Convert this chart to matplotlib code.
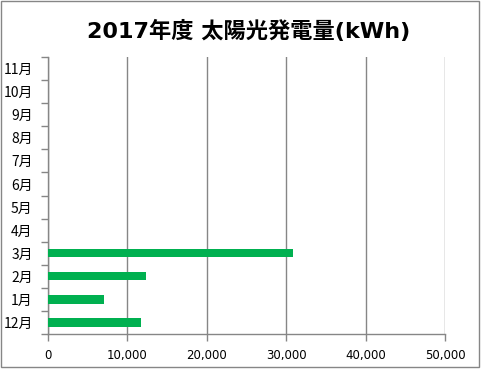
import matplotlib
matplotlib.use('Agg')
import matplotlib.pyplot as plt
from matplotlib.patches import Rectangle
from matplotlib.ticker import FuncFormatter, FixedLocator
import numpy as np

plt.rcParams['font.family'] = ['Noto Sans CJK JP', 'DejaVu Sans']

# DATA
months = ['12月', '1月', '2月', '3月', '4月', '5月', '6月', '7月', '8月', '9月', '10月', '11月']
values = [11700, 7070, 12350, 30800, 0, 0, 0, 0, 0, 0, 0, 0]
title = '2017年度 太陽光発電量(kWh)'
x_ticks = [0, 10000, 20000, 30000, 40000, 50000]

GRAY = '#868686'
GREEN = '#00B050'

fig = plt.figure(figsize=(4.91, 3.79), dpi=100)
ax = fig.add_axes([48 / 491, 1 - 334 / 379, 397 / 491, 277 / 379])

y = np.arange(len(months))
ax.barh(y, values, height=0.36, color=GREEN, zorder=3)

ax.set_xlim(0, 50000)
ax.set_ylim(-0.5, len(months) - 0.5)

ax.set_xticks(x_ticks)
ax.xaxis.set_major_formatter(FuncFormatter(lambda v, p: f'{int(v):,}'))
ax.set_yticks(y)
ax.set_yticklabels(months)
ax.yaxis.set_minor_locator(FixedLocator(np.arange(-0.5, len(months), 1)))

ax.grid(axis='x', color=GRAY, linewidth=1, zorder=0)
for side in ['top', 'right']:
    ax.spines[side].set_visible(False)
for side in ['left', 'bottom']:
    ax.spines[side].set_color(GRAY)
    ax.spines[side].set_linewidth(1)

ax.tick_params(axis='x', colors=GRAY, length=5, width=1, labelcolor='black',
               labelsize=8.5, pad=6)
ax.tick_params(axis='y', which='major', length=0, labelsize=10, pad=11)
ax.tick_params(axis='y', which='minor', colors=GRAY, length=5, width=1)
for lbl in ax.get_xticklabels():
    lbl.set_family('DejaVu Sans')

fig.text(249 / 491, 1 - 31 / 379, title, ha='center', va='center',
         fontsize=16, fontweight='bold', family=['DejaVu Sans', 'Noto Sans CJK JP'])

fig.patches.append(Rectangle((1 / 491, 1 - 367 / 379), 478 / 491, 366 / 379,
                             transform=fig.transFigure, fill=False,
                             edgecolor=GRAY, linewidth=1))

fig.savefig('out.png', dpi=100)
